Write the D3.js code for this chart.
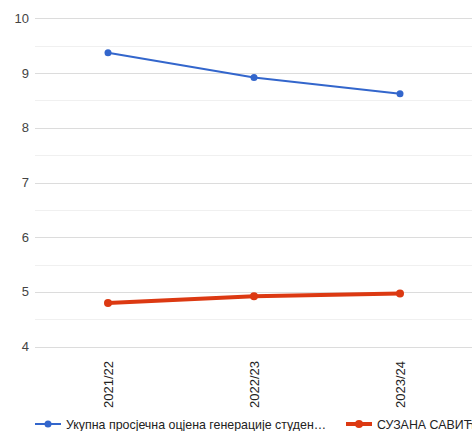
<!DOCTYPE html>
<html>
<head>
<meta charset="utf-8">
<script src="https://cdn.jsdelivr.net/npm/d3@7"></script>
<style>
  html, body { margin: 0; padding: 0; background: #fff; overflow: hidden; }
  svg { display: block; font-family: Arial, "Liberation Sans", sans-serif; }
</style>
</head>
<body>
<svg id="chart" width="472" height="431"></svg>
<script>
// Data
const years = ["2021/22", "2022/23", "2023/24"];
const generationAvg = [9.37, 8.92, 8.62];
const studentAvg = [4.80, 4.92, 4.97];
const yTicks = [4, 5, 6, 7, 8, 9, 10];
const seriesNames = ["Укупна просјечна оцјена генерације студен…", "СУЗАНА САВИЋ"];
const seriesColors = ["#3366cc", "#dc3912"];

const svg = d3.select("#chart");
const plotLeft = 35, plotRight = 473, plotTop = 18.3, plotBottom = 346.7;

const x = d3.scaleBand().domain(years).range([plotLeft, plotRight]);
const y = d3.scaleLinear().domain([4, 10]).range([plotBottom, plotTop]);

// minor gridlines at half steps
const minor = d3.range(4.5, 10, 1);
svg.selectAll(".minor").data(minor).enter().append("line")
    .attr("x1", plotLeft).attr("x2", 472)
    .attr("y1", d => Math.round(y(d)) + 0.5).attr("y2", d => Math.round(y(d)) + 0.5)
    .attr("stroke", "#f0f0f0").attr("stroke-width", 1);

// major gridlines
svg.selectAll(".major").data(yTicks).enter().append("line")
    .attr("x1", plotLeft).attr("x2", 472)
    .attr("y1", d => Math.round(y(d)) + 0.5).attr("y2", d => Math.round(y(d)) + 0.5)
    .attr("stroke", "#dcdcdc").attr("stroke-width", 1);

// y tick labels
svg.selectAll(".ylab").data(yTicks).enter().append("text")
    .attr("x", 29).attr("y", d => y(d) + 4.5)
    .attr("text-anchor", "end")
    .attr("font-size", 13).attr("fill", "#444")
    .text(d => d);

// x labels (rotated)
svg.selectAll(".xlab").data(years).enter().append("text")
    .attr("transform", d => `translate(${x(d) + x.bandwidth() / 2 + 4.5}, 361) rotate(-90)`)
    .attr("text-anchor", "end")
    .attr("font-size", 13).attr("fill", "#222")
    .text(d => d);

// series
const series = [generationAvg, studentAvg];
const widths = [2, 4];
const line = d3.line()
    .x((d, i) => x(years[i]) + x.bandwidth() / 2)
    .y(d => y(d));

series.forEach((vals, s) => {
    svg.append("path")
        .attr("d", line(vals))
        .attr("fill", "none")
        .attr("stroke", seriesColors[s])
        .attr("stroke-width", widths[s]);
    svg.selectAll(".pt" + s).data(vals).enter().append("circle")
        .attr("cx", (d, i) => x(years[i]) + x.bandwidth() / 2)
        .attr("cy", d => y(d))
        .attr("r", s === 0 ? 3.5 : 4)
        .attr("fill", seriesColors[s]);
});

// legend
const legendX = [35, 346];
const ly = 424;
seriesNames.forEach((name, s) => {
    const g = svg.append("g").attr("transform", `translate(${legendX[s]}, ${ly})`);
    g.append("line").attr("x1", 0).attr("x2", 26).attr("y1", 0).attr("y2", 0)
        .attr("stroke", seriesColors[s]).attr("stroke-width", widths[s]);
    g.append("circle").attr("cx", 13).attr("cy", 0).attr("r", s === 0 ? 3.5 : 4)
        .attr("fill", seriesColors[s]);
    g.append("text").attr("x", 31).attr("y", 4.5)
        .attr("font-size", 12.4).attr("fill", "#222")
        .text(name);
});
</script>
</body>
</html>
